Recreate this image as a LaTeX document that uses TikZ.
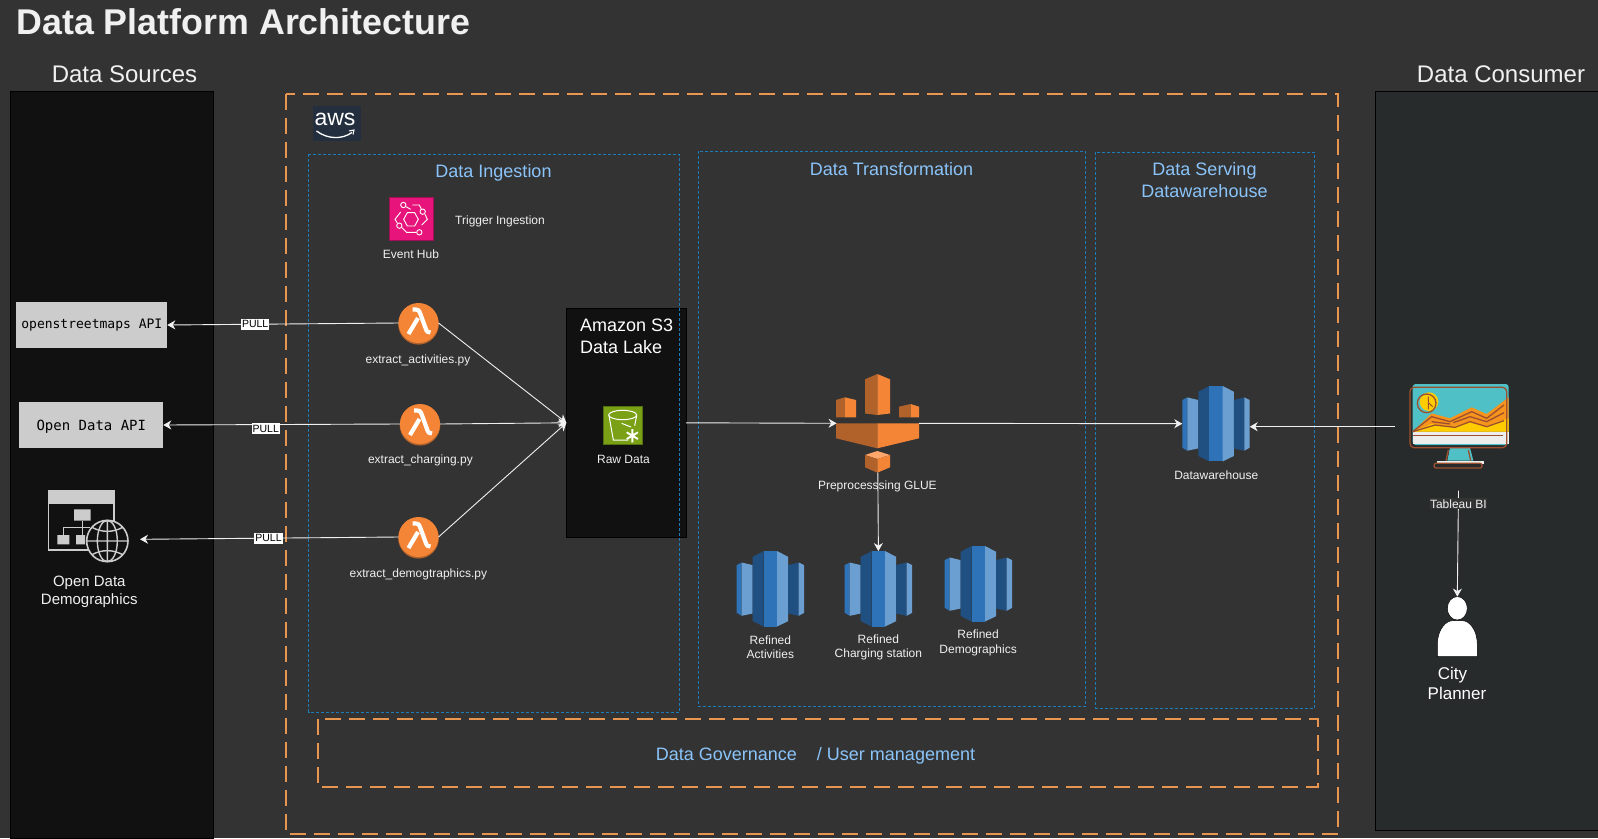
\documentclass[tikz,border=0pt]{standalone}
\usepackage{fontspec}
\setmainfont{Liberation Sans}
\setmonofont{DejaVu Sans Mono}
\usetikzlibrary{arrows.meta,shapes.geometric}
\definecolor{bgdark}{HTML}{333333}
\definecolor{panelblack}{HTML}{111111}
\definecolor{panelgrey}{HTML}{282B2B}
\definecolor{awsorange}{HTML}{E8954F}
\definecolor{zoneblue}{HTML}{1C7CB8}
\definecolor{headblue}{HTML}{8AC4FA}
\definecolor{softwhite}{HTML}{F0F0F0}
\definecolor{apigrey}{HTML}{CCCCCC}
\definecolor{orangelight}{HTML}{F58536}
\definecolor{orangedark}{HTML}{B0622A}
\definecolor{orangetop}{HTML}{FFA76A}
\definecolor{rsdark}{HTML}{205081}
\definecolor{rsmid}{HTML}{2E73B8}
\definecolor{rslight}{HTML}{6B9FD2}
\definecolor{hubpink}{HTML}{E7157B}
\definecolor{bucketgreen}{HTML}{7AA116}
\definecolor{biteal}{HTML}{4FC1C6}
\definecolor{bibrown}{HTML}{9C4F2E}
\definecolor{biyellow}{HTML}{FFCC00}
\definecolor{biorange}{HTML}{F7941D}
\definecolor{awsnavy}{HTML}{232F3E}
\tikzset{
	flow/.style={draw=softwhite,line width=.9pt,-{Stealth[length=8pt,width=9pt,inset=2.5pt]}},
	panel/.style={draw=black,line width=.8pt},
	awsdash/.style={draw=awsorange,line width=2pt,dash pattern=on 16pt off 8pt},
	zone/.style={draw=zoneblue,line width=.8pt,dash pattern=on 3pt off 2pt},
	iconbox/.style={inner sep=0pt,outer sep=0pt},
	lbl/.style={text=softwhite,font=\fontsize{12}{14.3}\selectfont,align=center,inner sep=0pt},
	head/.style={text=softwhite,font=\fontsize{24}{28}\selectfont,inner sep=0pt},
	zonehead/.style={text=headblue,font=\fontsize{18}{22}\selectfont,align=center,inner sep=0pt},
	apibox/.style={fill=apigrey,draw=none,text=black,font=\ttfamily\fontsize{13}{15}\selectfont,inner sep=0pt,outer sep=0pt},
	pulllbl/.style={fill=white,text=black,font=\fontsize{10.5}{13}\selectfont,inner xsep=1pt,inner ysep=2pt},
	redshift/.pic={
		\fill[rsmid] (-33.7,-23.7)--(-28.7,-26.3)--(-28.7,27)--(-33.7,24)--cycle;
		\fill[rslight] (-28.7,-26.3)--(-17.7,-23.7)--(-17.7,24.7)--(-28.7,27)--cycle;
		\fill[rsdark] (-17.7,-32)--(-6.7,-37.7)--(-6.7,37.7)--(-17.7,32.3)--cycle;
		\fill[rsmid] (-6.7,-37.7)--(6.7,-37.7)--(6.7,37.7)--(-6.7,37.7)--cycle;
		\fill[rslight] (6.7,-37.7)--(17.8,-32)--(17.8,32.3)--(6.7,37.7)--cycle;
		\fill[rsdark] (17.8,-23.7)--(28.3,-26.3)--(28.3,27)--(17.8,24.7)--cycle;
		\fill[rslight] (28.3,-26.3)--(33.7,-23.7)--(33.7,24)--(28.3,27)--cycle;
	},
}
\begin{document}
\begin{tikzpicture}[x=1pt,y=-1pt]
	\useasboundingbox (0,0) rectangle (1598,838);
	\fill[bgdark] (0,0) rectangle (1598,838);
	\draw[panel,fill=panelblack] (10.7,91.3) rectangle (213.3,838);
	\draw[panel,fill=panelgrey] (1375.6,91.7) rectangle (1598,830);
	\node[iconbox,text=softwhite,font=\bfseries\fontsize{35.8}{40}\selectfont,anchor=base west] (maintitle) at (16.5,34) {Data Platform Architecture};
	\node[head] (srchead) at (124.5,74) {Data Sources};
	\node[head] (conshead) at (1501,74) {Data Consumer};

	\node[iconbox,draw=black,fill=panelblack,minimum width=119.6pt,minimum height=229pt] (s3) at (626.2,422.8) {};
	\node[lbl,font=\fontsize{18}{21.7}\selectfont,align=left,anchor=north west,text=white] (s3title) at (580,319) {Amazon S3\\Data Lake};

	\draw[awsdash] (286,94) rectangle (1338.4,834.3);
	\draw[zone] (308.7,154.3) rectangle (679.6,712);
	\draw[zone] (698.5,151.3) rectangle (1085.5,706.7);
	\draw[zone] (1095.7,152) rectangle (1314.5,708);
	\draw[awsdash] (318.4,719.3) rectangle (1317.6,787.3);
	\node[zonehead] (inghead) at (493.5,173) {Data Ingestion};
	\node[zonehead] (transhead) at (891.5,169) {Data Transformation};
	\node[zonehead,anchor=north] (servhead) at (1204.5,162) {Data Serving\\Datawarehouse};
	\node[zonehead] (govhead) at (815.5,755.5) {Data Governance\hspace{20pt}/ User management};

	\node[iconbox,fill=awsnavy,minimum width=48pt,minimum height=35pt] (awslogo) at (337,123.5) {};
	\node[iconbox,text=white,font=\fontsize{23}{26}\selectfont] (awstext) at (335,119.5) {aws};
	\draw[white,line width=1.3pt] (316.5,131) .. controls (328,139.5) and (342,139.5) .. (352,132.5);
	\draw[white,line width=1pt] (349,131)--(354,130)--(353,134.5);

	\node[iconbox,draw=hubpink!70!black,fill=hubpink,minimum width=43.5pt,minimum height=43.5pt] (eventhub) at (411,218.8) {};
	\begin{scope}[shift={(380,190)},scale=1/3]
		\draw[white,line width=.9pt] (71,88)--(82,68)--(104,68)--(115,88)--(104,108)--(82,108)--cycle;
		\draw[white,line width=.9pt] (70,45) circle (8) (128,65) circle (8) (58,107) circle (8) (118,127) circle (8);
		\draw[white,line width=.9pt] (78,50)--(92,58) (97,45)--(118,45)--(124,57) (62,66)--(45,88)--(52,99) (135,73)--(142,88)--(125,105) (66,113)--(80,127)--(108,127);
	\end{scope}
	\node[lbl] (eventlbl) at (411,254) {Event Hub};
	\node[lbl] (triggerlbl) at (500,221.5) {Trigger Ingestion};

	\foreach \nm/\x/\y in {lamA/418.5/323,lamB/420/424,lamC/418.5/537}{
		\fill[orangedark] (\x,\y+1.3) circle (20.3);
		\node[iconbox,circle,fill=orangelight,minimum size=40pt] (\nm) at (\x,\y) {};
		\draw[white,line width=4.2pt] (\x-6,\y-13.5) -- (\x-3,\y-13.5) .. controls (\x+1,\y-13.5) and (\x+1,\y-11) .. (\x+3,\y-6) -- (\x+7,\y+5) .. controls (\x+8,\y+9) and (\x+10,\y+9.5) .. (\x+12,\y+9.5);
		\draw[white,line width=4.2pt] (\x-0.5,\y-5) -- (\x-10,\y+11);
	}
	\node[lbl] (lamAlbl) at (418,360) {extract\_activities.py};
	\node[lbl] (lamBlbl) at (420.4,460) {extract\_charging.py};
	\node[lbl] (lamClbl) at (418.4,574.5) {extract\_demogtraphics.py};

	\node[iconbox,fill=bucketgreen,draw=bucketgreen!70!black,minimum width=39pt,minimum height=38.5pt] (rawbucket) at (623,425) {};
	\begin{scope}[shift={(595,395)},scale=1/3,white,line width=1pt]
		\draw (83,60) ellipse (42 and 14);
		\draw (42,62)--(55,135)--(100,135) (125,62)--(119,92) (80,85)--(108,96);
		\draw[line width=1.9pt] (112,102)--(112,142) (95,112)--(129,132) (95,132)--(129,112);
	\end{scope}
	\node[lbl] (rawlbl) at (623.5,459.5) {Raw Data};

	\node[apibox,minimum width=151pt,minimum height=46.6pt] (osmapi) at (91.8,325) {openstreetmaps API};
	\node[apibox,font=\ttfamily\fontsize{14}{16}\selectfont,minimum width=144pt,minimum height=46.6pt,text height=13pt,text depth=3pt] (openapi) at (91.3,425) {Open Data API};

	\node[iconbox,minimum width=92pt,minimum height=90pt] (webdata) at (94,539.3) {};
	\begin{scope}[shift={(40,480)},scale=1/3,apigrey]
		\draw[line width=1.6pt] (25,32) rectangle (222,210);
		\fill (25,32) rectangle (225,72);
		\fill (102,88) rectangle (152,122) (52,165) rectangle (88,193) (108,165) rectangle (135,193);
		\draw[line width=1.4pt] (127,122)--(127,165) (70,165)--(70,143)--(150,143);
		\draw[line width=1.6pt,fill=panelblack] (202,183) circle (62);
		\draw[line width=1.4pt] (202,183) ellipse (30 and 62) (202,121)--(202,245) (140,183)--(264,183);
		\draw[line width=1.4pt] (156,142) .. controls (185,158) and (219,158) .. (248,142);
		\draw[line width=1.4pt] (156,224) .. controls (185,208) and (219,208) .. (248,224);
	\end{scope}
	\node[lbl,font=\fontsize{15}{18}\selectfont] (weblbl) at (89.3,592) {Open Data\\Demographics};

	\node[iconbox,minimum width=82.4pt,minimum height=98.7pt] (glue) at (877.8,423.3) {};
	\fill[orangedark] (865,379.3)--(877.3,374)--(877.3,415)--(865,413.5)--cycle;
	\fill[orangelight] (877.3,374)--(890,379.3)--(890,413.5)--(877.3,415)--cycle;
	\fill[orangedark] (836,400)--(844.7,397.3)--(844.7,417.3)--(836,417.3)--cycle;
	\fill[orangelight] (844.7,397.3)--(856,400)--(856,417.3)--(844.7,417.3)--cycle;
	\fill[orangedark] (899,406.7)--(910.7,404)--(910.7,417.3)--(899,417.3)--cycle;
	\fill[orangelight] (910.7,404)--(919,406.7)--(919,417.3)--(910.7,417.3)--cycle;
	\fill[orangedark] (836,423.3)--(877.3,423.3)--(877.3,448.3)--(836,438.3)--cycle;
	\fill[orangelight] (877.3,423.3)--(919,423.3)--(919,438.3)--(877.3,448.3)--cycle;
	\fill[orangetop] (865,455)--(877.3,451)--(890,455)--(877.3,459)--cycle;
	\fill[orangedark] (865,455)--(877.3,459)--(877.3,472.7)--(865,467.3)--cycle;
	\fill[orangelight] (877.3,459)--(890,455)--(890,467.3)--(877.3,472.7)--cycle;
	\node[lbl] (gluelbl) at (877.4,486.7) {Preprocesssing GLUE};

	\foreach \nm/\x/\y in {refAct/770.4/588.8,refChg/878.4/588.8,refDem/978.4/583.8,dw/1216/423.7}{
		\node[iconbox,minimum width=67.4pt,minimum height=75.4pt] (\nm) at (\x,\y) {};
		\pic at (\nm) {redshift};
	}
	\node[lbl] (refActlbl) at (770.4,647.5) {Refined\\Activities};
	\node[lbl] (refChglbl) at (878.4,647.5) {Refined\\Charging station};
	\node[lbl] (refDemlbl) at (978.1,643) {Refined\\Demographics};
	\node[lbl] (dwlbl) at (1216.3,475.5) {Datawarehouse};

	\node[iconbox,minimum width=99pt,minimum height=85pt] (tableau) at (1459,426.7) {};
	\begin{scope}[shift={(1360,370)},scale=1/3]
		\fill[biteal,rounded corners=3pt] (158,42) rectangle (446,225);
		\fill[biorange] (158,185)--(215,130)--(270,145)--(335,112)--(380,132)--(446,82)--(446,185)--cycle;
		\fill[biyellow] (158,185)--(215,162)--(280,170)--(330,155)--(380,168)--(446,145)--(446,185)--cycle;
		\fill[biyellow] (207,95) circle (28);
		\fill[white!93!black] (158,185) rectangle (446,222);
		\fill[biteal] (270,233)--(330,233)--(340,272)--(262,272)--cycle;
		\fill[white!93!black] (230,272) rectangle (372,282);
		\draw[bibrown,line width=1.3pt] (200,100) circle (28);
		\draw[bibrown,line width=1pt] (205,80)--(205,118) (205,98)--(218,110);
		\draw[bibrown,line width=1.3pt] (158,185)--(215,140)--(270,155)--(335,125)--(380,145)--(432,105);
		\draw[bibrown,line width=1.3pt] (215,155)--(270,162)(280,158)--(330,140)--(380,155)--(432,128);
		\draw[bibrown,line width=1.3pt] (158,185)--(225,165)--(285,172)--(330,155)--(380,170)--(432,152);
		\draw[bibrown,line width=1.3pt] (160,197)--(428,197);
		\draw[bibrown,line width=1.3pt,rounded corners=4pt] (150,52) rectangle (440,233);
		\draw[bibrown,line width=1.3pt] (265,240)--(258,272) (325,240)--(332,272);
		\draw[bibrown,line width=1.3pt,rounded corners=2pt] (222,280) rectangle (366,294);
	\end{scope}

	\node[iconbox,ellipse,fill=white,draw=black,line width=.5pt,minimum width=20pt,minimum height=23.4pt] (personhead) at (1457.3,608.3) {};
	\draw[fill=white,draw=black,line width=.5pt] (1437.3,656.7)--(1437.3,645) .. controls (1437.3,628) and (1447,620.7) .. (1452,620.7)--(1463,620.7) .. controls (1468,620.7) and (1477.3,628) .. (1477.3,645)--(1477.3,656.7)--cycle;
	\node[lbl,font=\fontsize{17}{20}\selectfont,text=white] (personlbl) at (1457,683.3) {City\rule{9pt}{0pt}\\Planner};

	\coordinate (tableauOut) at (1394.7,426.7);
	\coordinate (tableauDown) at (1458.5,490.7);
	\draw[flow] (lamA.west)--node[pulllbl,pos=.62] (pullA) {PULL} (osmapi.east);
	\draw[flow] (lamB.west)--node[pulllbl,pos=.567,yshift=-4pt] (pullB) {PULL} (openapi.east);
	\draw[flow] (lamC.west)--node[pulllbl,pos=.503] (pullC) {PULL} (webdata.east);
	\draw[flow] (lamA.east)--(s3.west);
	\draw[flow] (lamB.east)--(s3.west);
	\draw[flow] (lamC.east)--(s3.west);
	\draw[flow] (s3.east)--(glue.west);
	\draw[flow] (glue.east)--(dw.west);
	\draw[flow] (glue.south)--(refChg.north);
	\draw[flow] (tableauOut)--(dw.east |- tableauOut);
	\draw[flow] (tableauDown)--node[lbl,pos=.123,fill=bgdark,inner xsep=0pt,inner ysep=1pt] (tableaulbl) {Tableau BI} (personhead.north);
\end{tikzpicture}
\end{document}
